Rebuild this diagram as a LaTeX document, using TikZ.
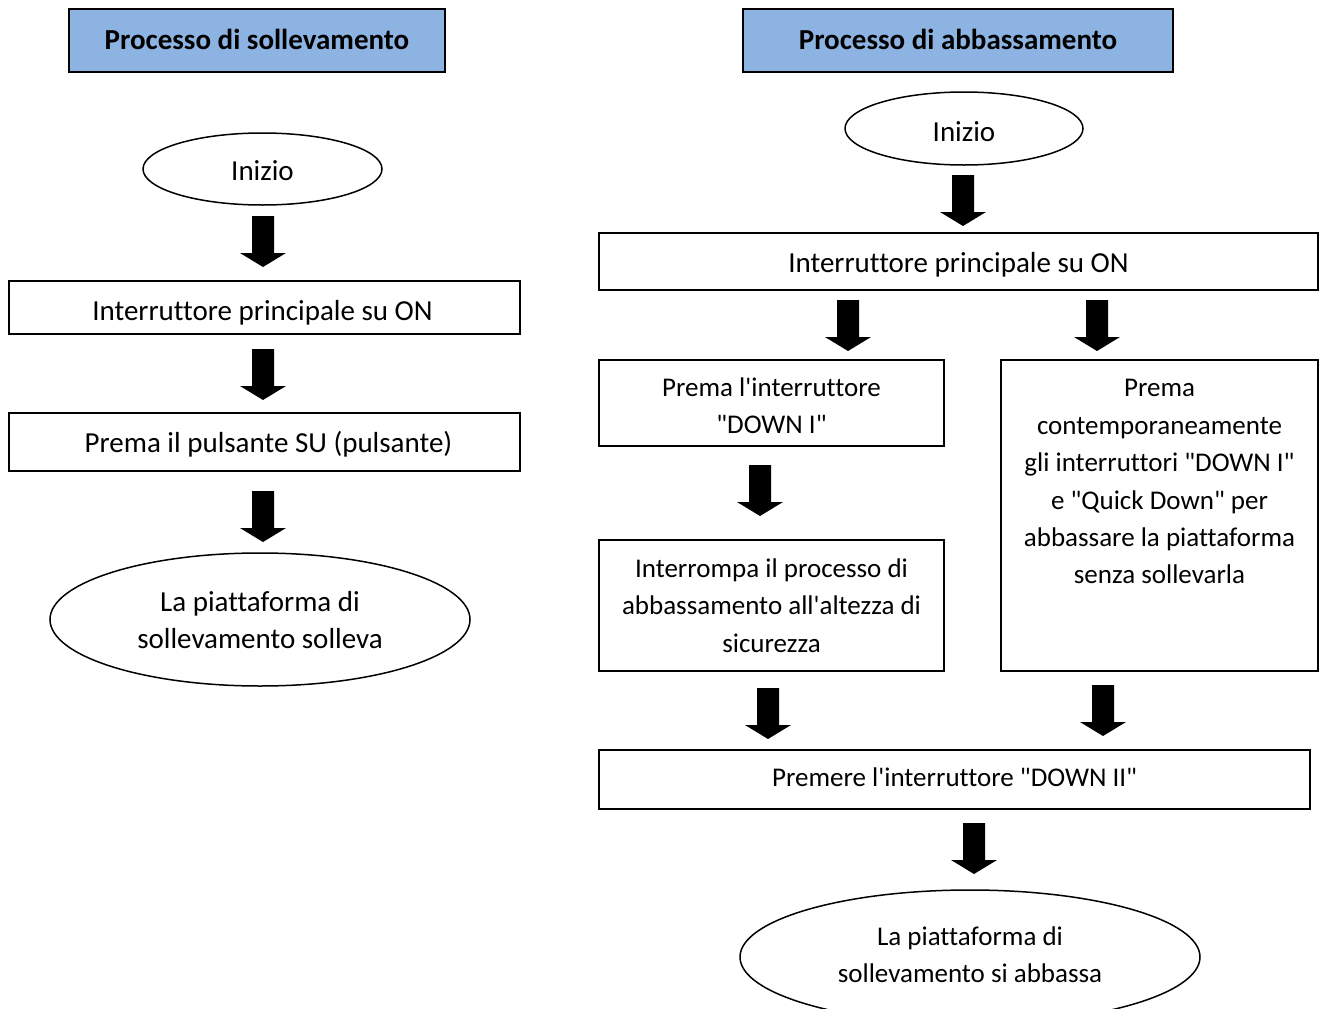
\documentclass[tikz,border=0pt]{standalone}
\usepackage{fontspec}
\setmainfont{Carlito}[Ligatures={TeXOff,CommonOff}]
\usetikzlibrary{shapes.geometric}
\definecolor{hdr}{RGB}{141,179,226}
\begin{document}
\begin{tikzpicture}[x=1pt,y=-1pt,
  every node/.style={line width=1.5pt, align=center, inner sep=0pt},
  box/.style={draw, rectangle},
  hdrbox/.style={draw, rectangle, fill=hdr},
  oval/.style={draw, ellipse},
  tx/.style={font=\fontsize{29}{37}\selectfont},
  hdrtx/.style={font=\fontsize{29}{37}\selectfont\bfseries},
  stx/.style={font=\fontsize{27}{37.4}\selectfont},
  barrow/.pic={\fill[black] (-11,0) -- (11,0) -- (11,37) -- (23,37) -- (0,51) -- (-23,37) -- (-11,37) -- cycle;}]
\useasboundingbox (0,0) rectangle (1325,1009);
\clip (0,0) rectangle (1325,1009);
% headers
\node[hdrbox, minimum width=376pt, minimum height=63pt] (hl) at (257,40.5) {};
\node[hdrtx, yshift=1pt] (hlt) at (hl.center) {Processo di sollevamento};
\node[hdrbox, minimum width=430pt, minimum height=63pt] (hr) at (958,40.5) {};
\node[hdrtx, yshift=1pt] (hrt) at (hr.center) {Processo di abbassamento};
% left column
\node[oval, minimum width=239pt, minimum height=72pt] (l0) at (262.5,169) {};
\node[tx, yshift=-2pt] (l0t) at (l0.center) {Inizio};
\node[box, minimum width=511pt, minimum height=53pt] (l1) at (264.5,307.5) {};
\node[tx, yshift=-5pt, xshift=-2pt] (l1t) at (l1.center) {Interruttore principale su ON};
\node[box, minimum width=511pt, minimum height=58pt] (l2) at (264.5,442) {};
\node[tx, yshift=-2pt, xshift=4pt] (l2t) at (l2.center) {Prema il pulsante SU (pulsante)};
\node[oval, minimum width=420pt, minimum height=133pt] (l3) at (260,619.5) {};
\node[tx, yshift=-1pt] (l3t) at (l3.center) {La piattaforma di\\sollevamento solleva};
\pic at (263,216) {barrow};
\pic at (263,349) {barrow};
\pic at (263,491) {barrow};
% right column
\node[oval, minimum width=238pt, minimum height=73pt] (r0) at (964,128.5) {};
\node[tx, yshift=-3pt] (r0t) at (r0.center) {Inizio};
\node[box, minimum width=719pt, minimum height=57pt] (r1) at (958.5,261.5) {};
\node[tx, yshift=-3pt] (r1t) at (r1.center) {Interruttore principale su ON};
\node[box, minimum width=345pt, minimum height=86pt] (r2a) at (771.5,403) {};
\node[stx, yshift=-3pt] (r2at) at (r2a.center) {Prema l'interruttore\\"DOWN I"};
\node[box, minimum width=317pt, minimum height=311pt] (r2b) at (1159.5,515.5) {};
\node[stx, anchor=north] (r2bt) at (1159.5,370) {\strut Prema\\contemporaneamente\\gli interruttori "DOWN I"\\e "Quick Down" per\\abbassare la piattaforma\\senza sollevarla};
\node[box, minimum width=345pt, minimum height=131pt] (r3a) at (771.5,605.5) {};
\node[stx] (r3at) at (r3a.center) {Interrompa il processo di\\abbassamento all'altezza di\\sicurezza};
\node[box, minimum width=711pt, minimum height=59pt] (r4) at (954.5,779.5) {};
\node[stx, yshift=2pt] (r4t) at (r4.center) {Premere l'interruttore "DOWN II"};
\node[oval, minimum width=460pt, minimum height=134pt] (r5) at (970,957) {};
\node[stx, yshift=2pt] (r5t) at (r5.center) {La piattaforma di\\sollevamento si abbassa};
\pic at (963,175) {barrow};
\pic at (848,300) {barrow};
\pic at (1097,300) {barrow};
\pic at (760,465) {barrow};
\pic at (768,688) {barrow};
\pic at (1103,685) {barrow};
\pic at (974,823) {barrow};
\end{tikzpicture}
\end{document}
